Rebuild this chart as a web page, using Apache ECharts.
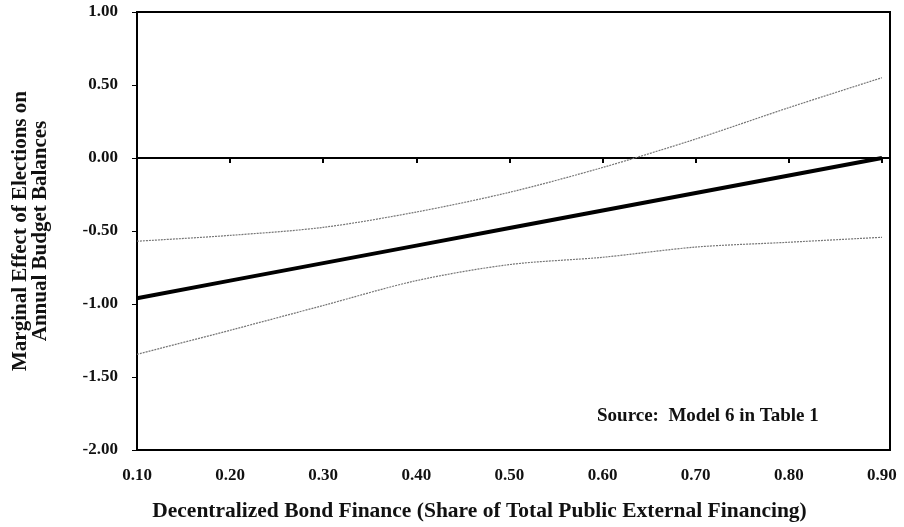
<!DOCTYPE html>
<html>
<head>
<meta charset="utf-8">
<script src="https://cdn.jsdelivr.net/npm/echarts@6/dist/echarts.min.js"></script>
<style>
  html, body { margin: 0; padding: 0; background: #fff; }
  #chart { width: 904px; height: 527px; }
</style>
</head>
<body>
<div id="chart"></div>
<script>
// bond finance share
var shares = [0.10, 0.20, 0.30, 0.40, 0.50, 0.60, 0.70, 0.80, 0.90];
// marginal effect and its bounds
var effect = [-0.96, -0.84, -0.72, -0.60, -0.48, -0.36, -0.24, -0.12, 0.00];
var upper = [-0.57, -0.53, -0.475, -0.37, -0.235, -0.065, 0.13, 0.345, 0.55];
var lower = [-1.345, -1.18, -1.01, -0.84, -0.73, -0.68, -0.61, -0.577, -0.543];

var fontFam = '"Liberation Serif", "DejaVu Serif", serif';

function pairs(ys) {
  return shares.map(function (x, i) { return [x, ys[i]]; });
}

var myChart = echarts.init(document.getElementById('chart'));
var option = {
  backgroundColor: '#fff',
  animation: false,
  grid: {
    left: 137, right: 14, top: 12, bottom: 75,
    show: true,
    borderColor: '#000',
    borderWidth: 2
  },
  xAxis: [{
    type: 'value',
    min: 0.1,
    max: 0.9086,
    interval: 0.1,
    axisLine: { onZero: true, lineStyle: { color: '#000', width: 2 } },
    axisTick: { show: true, length: 5, lineStyle: { color: '#000', width: 2 } },
    axisLabel: { show: false },
    splitLine: { show: false }
  }, {
    type: 'value',
    position: 'bottom',
    min: 0.1,
    max: 0.9086,
    interval: 0.1,
    axisLine: { show: false, onZero: false },
    axisTick: { show: false },
    splitLine: { show: false },
    axisLabel: {
      margin: 17,
      fontFamily: fontFam,
      fontWeight: 'bold',
      fontSize: 17,
      color: '#111',
      formatter: function (v) {
        var r = Math.round(v * 10) / 10;
        if (Math.abs(v - r) > 1e-6) return '';
        return v.toFixed(2);
      }
    },
    name: 'Decentralized Bond Finance (Share of Total Public External Financing)',
    nameLocation: 'middle',
    nameGap: 50,
    nameTextStyle: {
      fontFamily: fontFam, fontWeight: 'bold', fontSize: 21.5, color: '#111',
      padding: [0, 68, 0, 0]
    }
  }],
  yAxis: {
    type: 'value',
    min: -2,
    max: 1,
    interval: 0.5,
    axisLine: { show: true, lineStyle: { color: '#000', width: 2 } },
    axisTick: { show: true, length: 5, lineStyle: { color: '#000', width: 1 } },
    splitLine: { show: false },
    axisLabel: {
      margin: 19,
      fontFamily: fontFam,
      fontWeight: 'bold',
      fontSize: 17,
      color: '#111',
      formatter: function (v) { return v.toFixed(2); }
    },
    name: 'Marginal Effect of Elections on\nAnnual Budget Balances',
    nameLocation: 'middle',
    nameGap: 86,
    nameTextStyle: { fontFamily: fontFam, fontWeight: 'bold', fontSize: 21, color: '#111', lineHeight: 20 }
  },
  graphic: [{
    type: 'text',
    left: 597,
    top: 407,
    style: {
      text: 'Source:  Model 6 in Table 1',
      fontFamily: fontFam,
      fontWeight: 'bold',
      fontSize: 19,
      fill: '#111'
    }
  }],
  series: [{
    type: 'line',
    data: pairs(upper),
    smooth: 0.3,
    symbol: 'none',
    lineStyle: { color: '#777', width: 1.2, type: [2, 1] }
  }, {
    type: 'line',
    data: pairs(lower),
    smooth: 0.3,
    symbol: 'none',
    lineStyle: { color: '#777', width: 1.2, type: [2, 1] }
  }, {
    type: 'line',
    data: pairs(effect),
    symbol: 'none',
    lineStyle: { color: '#000', width: 4 }
  }]
};
myChart.setOption(option);
</script>
</body>
</html>
